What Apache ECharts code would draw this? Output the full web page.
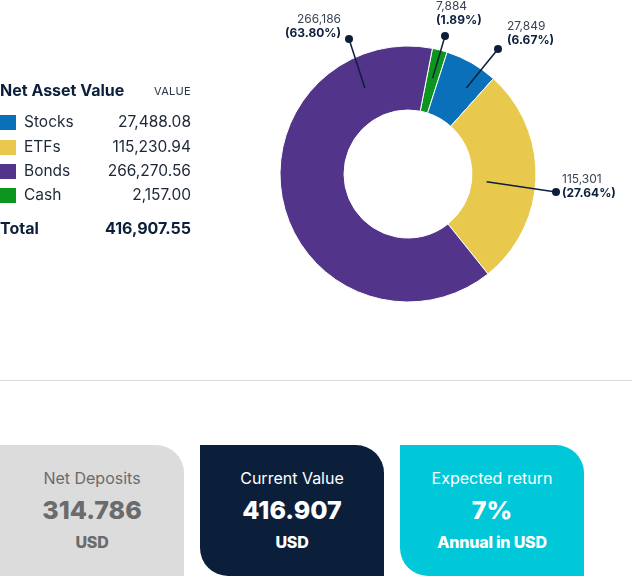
<!DOCTYPE html>
<html><head><meta charset="utf-8">
<script src="https://cdn.jsdelivr.net/npm/echarts@6/dist/echarts.min.js"></script>
<style>
html,body{margin:0;padding:0;width:632px;height:576px;overflow:hidden;background:#fff;font-family:Inter,"Noto Sans",sans-serif;}
#chart{position:absolute;left:0;top:0;width:632px;height:370px;}
.t{position:absolute;white-space:nowrap;line-height:20px;height:20px;}
.sw{position:absolute;left:0;width:16px;height:15px;}
.sep{position:absolute;left:0;top:380px;width:632px;height:1px;background:#dcdcdc;}
.card{position:absolute;top:445px;width:184px;height:131px;text-align:center;}
.card div{position:absolute;left:0;width:100%;white-space:nowrap;}
.ct{top:23px;font-size:16px;line-height:20px;}
.cv{top:50px;font-size:25px;font-weight:800;line-height:30px;}
.cu{top:87px;font-size:16px;font-weight:800;line-height:20px;letter-spacing:-0.2px;}
</style></head><body>
<div id="chart"></div>
<div id="table"></div>
<div class="sep"></div>
<div id="cards"></div>
<script>
// ---------- data ----------
const categories = ['Stocks', 'ETFs', 'Bonds', 'Cash'];
const tableValues = [27488.08, 115230.94, 266270.56, 2157.00];
const tableTotal = 416907.55;
const pieCategories = ['Cash', 'Stocks', 'ETFs', 'Bonds'];
const pieValues = [7884, 27849, 115301, 266186];
const cardTitles = ['Net Deposits', 'Current Value', 'Expected return'];
const cardValues = ['314.786', '416.907', '7%'];
const cardUnits = ['USD', 'USD', 'Annual in USD'];

// ---------- styles / layout ----------
const colors = { Stocks: '#0a70b9', ETFs: '#e8c84d', Bonds: '#52358a', Cash: '#0e951f' };
const navy = '#0b1f3a';
const cx = 408, cy = 174, r0 = 64, r1 = 128;
const startOffset = 11; // degrees clockwise from 12 o'clock
const labelPlacement = {
  Bonds:  { frac: 0.836, r: 96,  dot: [349, 39],  text: [341, 26],    align: 'right' },
  Cash:   { frac: 0.5,   r: 99,  dot: [445, 36],  text: [436, 13],    align: 'left' },
  Stocks: { frac: 0.68,  r: 104, dot: [498, 49],  text: [507, 33.5],  align: 'left' },
  ETFs:   { frac: 0.54,  r: 79,  dot: [556, 192], text: [562, 186.5], align: 'left' }
};
const cardStyles = [
  { bg: '#dcdcdc', fg: '#6b6b6b', left: 0, radius: '0 28px 0 0' },
  { bg: '#0b1f3b', fg: '#ffffff', left: 200, radius: '0 28px 0 28px' },
  { bg: '#00c8d8', fg: '#ffffff', left: 400, radius: '0 28px 0 28px' }
];

// ---------- table ----------
const fmt2 = v => v.toLocaleString('en-US', { minimumFractionDigits: 2, maximumFractionDigits: 2 });
const table = document.getElementById('table');
let html = '';
html += `<div class="t" style="left:0;top:80px;font-size:16px;font-weight:700;color:${navy}">Net Asset Value</div>`;
html += `<div class="t" style="right:441px;top:81px;font-size:11px;color:#2a3344;letter-spacing:0.3px">VALUE</div>`;
const rowY = [122, 147, 171, 195];
categories.forEach((c, i) => {
  html += `<div class="sw" style="top:${rowY[i] - 7}px;background:${colors[c]}"></div>`;
  html += `<div class="t" style="left:24px;top:${rowY[i] - 10}px;font-size:15.5px;color:#1d2738">${c}</div>`;
  html += `<div class="t" style="right:441px;top:${rowY[i] - 10}px;font-size:15.5px;color:#1d2738">${fmt2(tableValues[i])}</div>`;
});
html += `<div class="t" style="left:0;top:218px;font-size:16px;font-weight:700;color:${navy}">Total</div>`;
html += `<div class="t" style="right:441px;top:218px;font-size:16px;font-weight:700;color:${navy}">${fmt2(tableTotal)}</div>`;
table.innerHTML = html;

// ---------- cards ----------
const cards = document.getElementById('cards');
cards.innerHTML = cardTitles.map((t, i) => {
  const s = cardStyles[i];
  return `<div class="card" style="left:${s.left}px;background:${s.bg};color:${s.fg};border-radius:${s.radius}">
    <div class="ct">${t}</div><div class="cv">${cardValues[i]}</div><div class="cu">${cardUnits[i]}</div></div>`;
}).join('');

// ---------- pie ----------
const total = pieValues.reduce((a, b) => a + b, 0);
const anchors = {};
let cum = 0;
pieCategories.forEach((c, i) => {
  const sweep = pieValues[i] / total * 360;
  const a = (startOffset + cum + sweep * labelPlacement[c].frac) * Math.PI / 180;
  const rr = labelPlacement[c].r;
  anchors[c] = [cx + rr * Math.sin(a), cy - rr * Math.cos(a)];
  cum += sweep;
});

const chart = echarts.init(document.getElementById('chart'), null, { renderer: 'canvas' });
const guides = [];
pieCategories.forEach(c => {
  const p = labelPlacement[c];
  guides.push({
    type: 'line', z: 100, silent: true,
    shape: { x1: anchors[c][0], y1: anchors[c][1], x2: p.dot[0], y2: p.dot[1] },
    style: { stroke: navy, lineWidth: 1.5 }
  });
  guides.push({
    type: 'circle', z: 101, silent: true,
    shape: { cx: p.dot[0], cy: p.dot[1], r: 4 },
    style: { fill: navy }
  });
});
chart.setOption({
  animation: false,
  series: [{
    type: 'pie',
    center: [cx, cy],
    radius: [r0, r1],
    startAngle: 90 - startOffset,
    clockwise: true,
    avoidLabelOverlap: false,
    silent: true,
    itemStyle: { borderColor: '#fff', borderWidth: 1 },
    labelLine: { show: false },
    data: pieCategories.map((c, i) => {
      const al = labelPlacement[c].align;
      return {
        name: c,
        value: pieValues[i],
        itemStyle: { color: colors[c] },
        label: {
          show: true,
          position: 'outside',
          align: al,
          formatter: p => `{v|${p.value.toLocaleString('en-US')}}\n{p|(${p.percent.toFixed(2)}%)}`,
          rich: {
            v: { fontSize: 12, color: '#3a4354', lineHeight: 14, fontFamily: 'Inter', align: al },
            p: { fontSize: 12, fontWeight: 'bold', color: navy, lineHeight: 14, fontFamily: 'Inter', align: al }
          }
        }
      };
    }),
    labelLayout: function (params) {
      const c = pieCategories[params.dataIndex];
      const p = labelPlacement[c];
      return { x: p.text[0], y: p.text[1], align: p.align, verticalAlign: 'middle' };
    }
  }],
  graphic: guides
});
</script>
</body></html>
